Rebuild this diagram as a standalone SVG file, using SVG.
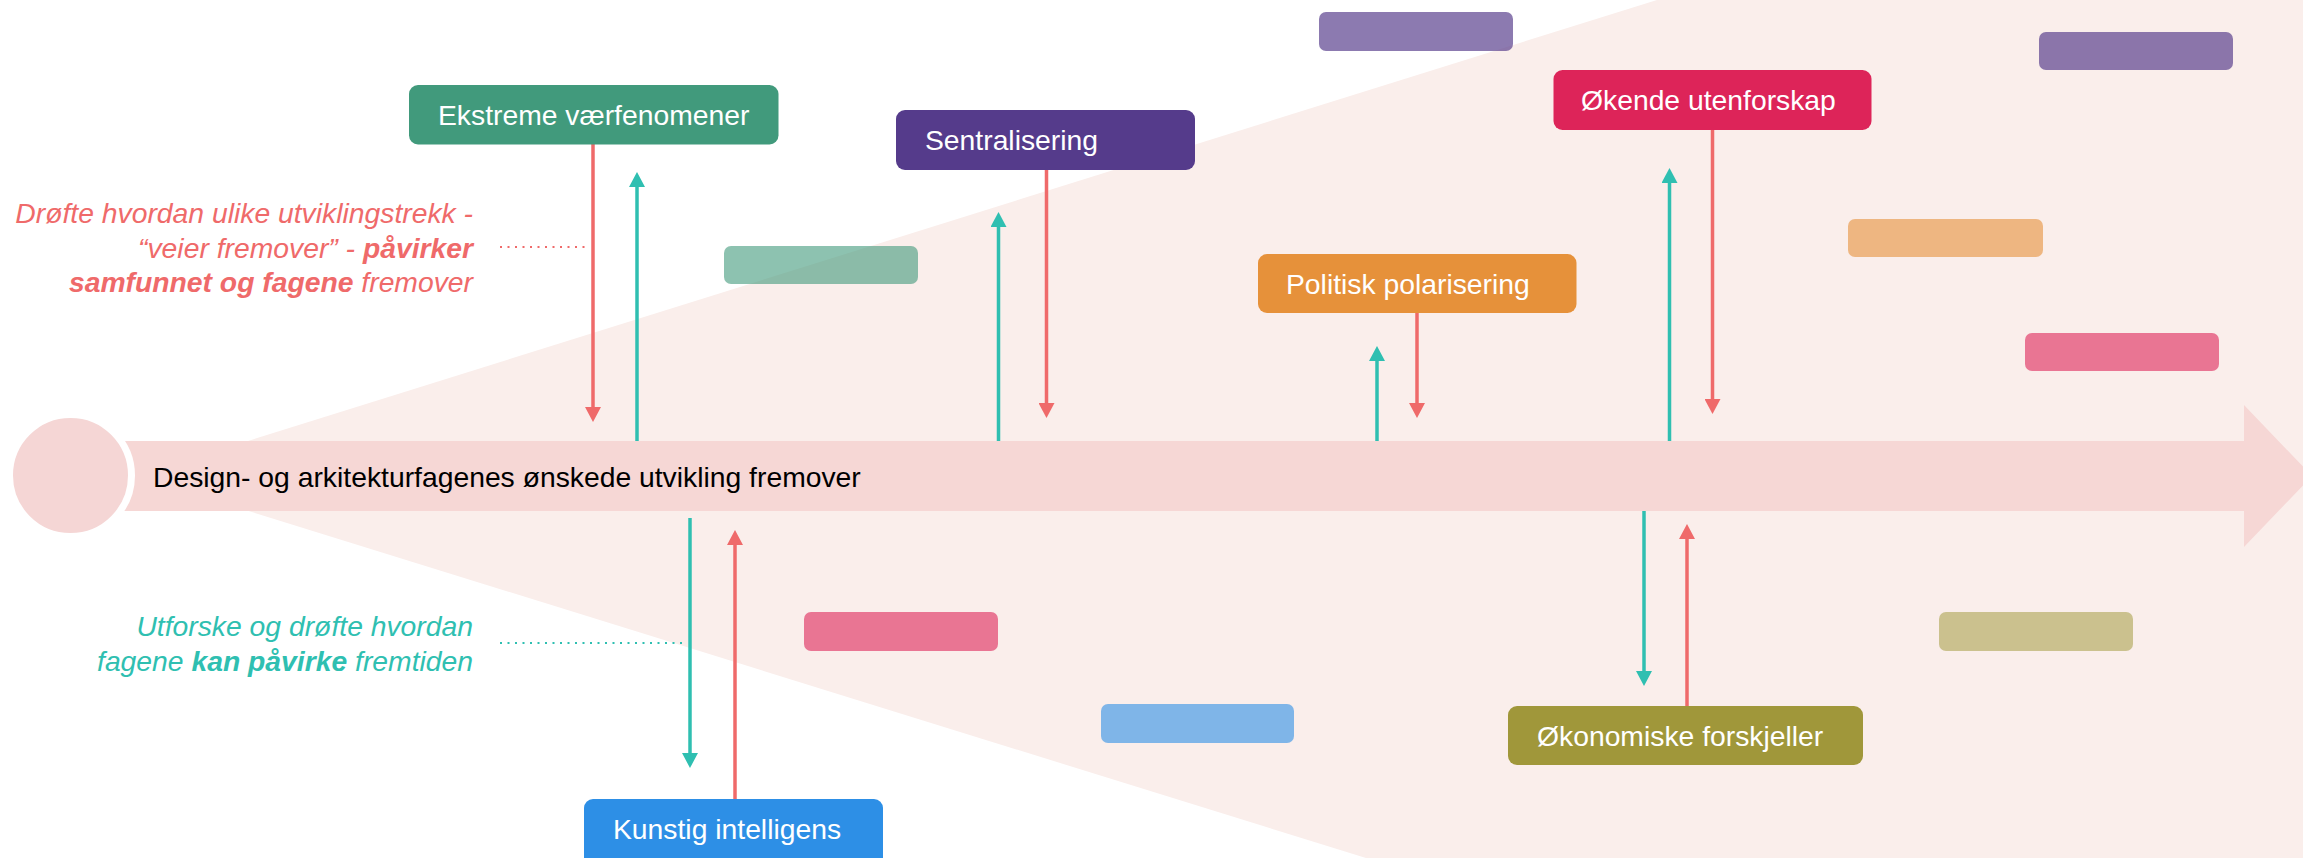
<svg xmlns="http://www.w3.org/2000/svg" width="2303" height="858" viewBox="0 0 2303 858">
<style>
text{font-family:"Liberation Sans",Arial,sans-serif;font-size:28.3px}
.lbl{fill:#ffffff}
.node rect{stroke:none}
.faded{opacity:0.6}
.faded.deep{opacity:0.68}
.faded.light{opacity:0.52}
.red{stroke:#EF6A6A;stroke-width:3.5;fill:none}
.teal{stroke:#2FBFB1;stroke-width:3.5;fill:none}
.dotr{stroke:#EF6A6A;stroke-width:2;stroke-dasharray:2 5.5;fill:none}
.dott{stroke:#2FBFB1;stroke-width:2;stroke-dasharray:2 5.5;fill:none}
</style>
<defs>
<marker id="ahr" viewBox="0 0 15 16" markerWidth="15" markerHeight="16" markerUnits="userSpaceOnUse" refX="3" refY="8" orient="auto"><path d="M0,0 L15,8 L0,16 z" fill="#EF6A6A"/></marker>
<marker id="aht" viewBox="0 0 15 16" markerWidth="15" markerHeight="16" markerUnits="userSpaceOnUse" refX="3" refY="8" orient="auto"><path d="M0,0 L15,8 L0,16 z" fill="#2FBFB1"/></marker>
</defs>
<rect x="0" y="0" width="2303" height="858" fill="#ffffff"/>
<g id="background">
<polygon points="136,476 1657,0 2303,0 2303,858 1366,858" fill="#FAEEEB"/>
<polygon points="120,441 2244,441 2244,405 2312,476 2244,547 2244,511 120,511" fill="#F6D7D5"/>
<circle cx="70.5" cy="475.5" r="61" fill="#F5D6D5" stroke="#ffffff" stroke-width="7"/>
<text x="153" y="487" fill="#000000">Design- og arkitekturfagenes ønskede utvikling fremover</text>
</g>
<g id="faded-boxes">
<g id="faded-purple-top" class="faded deep"><rect x="1319" y="12" width="194" height="39" rx="7" fill="#553B8B"/></g>
<g id="faded-purple-right" class="faded deep"><rect x="2039" y="32" width="194" height="38" rx="7" fill="#553B8B"/></g>
<g id="faded-green" class="faded"><rect x="724" y="246" width="194" height="38" rx="7" fill="#419A7C"/></g>
<g id="faded-orange" class="faded"><rect x="1848" y="219" width="195" height="38" rx="7" fill="#E6913A"/></g>
<g id="faded-pink-right" class="faded"><rect x="2025" y="333" width="194" height="38" rx="7" fill="#DD2459"/></g>
<g id="faded-pink-bottom" class="faded"><rect x="804" y="612" width="194" height="39" rx="7" fill="#DD2459"/></g>
<g id="faded-blue" class="faded"><rect x="1101" y="704" width="193" height="39" rx="7" fill="#2D8FE6"/></g>
<g id="faded-olive" class="faded light"><rect x="1939" y="612" width="194" height="39" rx="7" fill="#A0973A"/></g>
</g>
<g id="connectors">
<line class="red" x1="593" y1="144" x2="593" y2="410" marker-end="url(#ahr)"/>
<line class="teal" x1="637" y1="441" x2="637" y2="184" marker-end="url(#aht)"/>
<line class="teal" x1="998.5" y1="441" x2="998.5" y2="224" marker-end="url(#aht)"/>
<line class="red" x1="1046.5" y1="170" x2="1046.5" y2="406" marker-end="url(#ahr)"/>
<line class="teal" x1="1377" y1="441" x2="1377" y2="358" marker-end="url(#aht)"/>
<line class="red" x1="1417" y1="313" x2="1417" y2="406" marker-end="url(#ahr)"/>
<line class="teal" x1="1669.5" y1="441" x2="1669.5" y2="180" marker-end="url(#aht)"/>
<line class="red" x1="1712.5" y1="130" x2="1712.5" y2="402" marker-end="url(#ahr)"/>
<line class="teal" x1="690" y1="518" x2="690" y2="756" marker-end="url(#aht)"/>
<line class="red" x1="735" y1="799" x2="735" y2="542" marker-end="url(#ahr)"/>
<line class="teal" x1="1644" y1="511" x2="1644" y2="674" marker-end="url(#aht)"/>
<line class="red" x1="1687" y1="706" x2="1687" y2="536" marker-end="url(#ahr)"/>
<line class="dotr" x1="500" y1="247" x2="590" y2="247"/>
<line class="dott" x1="500" y1="643" x2="687" y2="643"/>
</g>
<g id="node-ekstreme" class="node"><rect x="409" y="85" width="369.5" height="59.5" rx="9" fill="#419A7C"/><text class="lbl" x="438" y="125">Ekstreme værfenomener</text></g>
<g id="node-sentralisering" class="node"><rect x="896" y="110" width="299" height="60" rx="9" fill="#553B8B"/><text class="lbl" x="925" y="150">Sentralisering</text></g>
<g id="node-politisk" class="node"><rect x="1258" y="254" width="318.5" height="59" rx="9" fill="#E6913A"/><text class="lbl" x="1286" y="293.5">Politisk polarisering</text></g>
<g id="node-okende" class="node"><rect x="1553.5" y="70" width="318" height="60" rx="9" fill="#DD2459"/><text class="lbl" x="1581" y="110">Økende utenforskap</text></g>
<g id="node-okonomiske" class="node"><rect x="1508" y="706" width="355" height="59" rx="9" fill="#A0973A"/><text class="lbl" x="1537" y="745.5">Økonomiske forskjeller</text></g>
<g id="node-kunstig" class="node"><rect x="584" y="799" width="299" height="68" rx="9" fill="#2D8FE6"/><text class="lbl" x="613" y="838.5">Kunstig intelligens</text></g>
<g id="note-red" fill="#EF6A6A" font-style="italic" text-anchor="end">
<text x="473" y="223">Drøfte hvordan ulike utviklingstrekk -</text>
<text x="473" y="258">“veier fremover” - <tspan font-weight="bold">påvirker</tspan></text>
<text x="473" y="292"><tspan font-weight="bold">samfunnet og fagene</tspan> fremover</text>
</g>
<g id="note-teal" fill="#2FBFB1" font-style="italic" text-anchor="end">
<text x="473" y="636">Utforske og drøfte hvordan</text>
<text x="473" y="671">fagene <tspan font-weight="bold">kan påvirke</tspan> fremtiden</text>
</g>
</svg>
